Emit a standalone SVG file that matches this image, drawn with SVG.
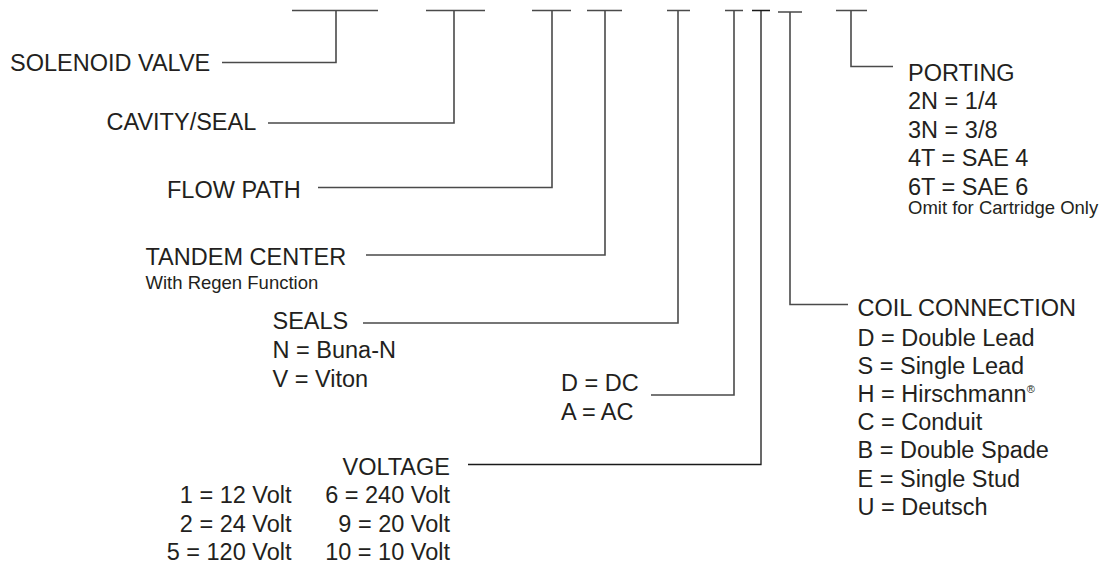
<svg xmlns="http://www.w3.org/2000/svg" width="1101" height="564" viewBox="0 0 1101 564">
<style>
text{font-family:"Liberation Sans",Arial,Helvetica,sans-serif;fill:#231f20;font-size:23.5px}
.s{font-size:18.5px}
.e{text-anchor:end}
.c{fill:none;stroke:#4a4a4a;stroke-width:1.6}
.k{fill:none;stroke:#1a1a1a;stroke-width:1.3}
</style>
<rect width="1101" height="564" fill="#fff"/>
<g id="connectors">
<path class="c" d="M292,10.5H378M336,10.5V62.5H222"/>
<path class="c" d="M426,10.5H485M454,10.5V123H268"/>
<path class="c" d="M532,10.5H571M552,10.5V187.5H318"/>
<path class="c" d="M587,10.5H622M605,10.5V255H366"/>
<path class="c" d="M667,10.5H690M678,10.5V323H363"/>
<path class="c" d="M725,10.5H743M734,10.5V395H651"/>
<path class="k" d="M752,10.5H770M761,10.5V464.5H468"/>
<path class="c" d="M778,12H802M790,12V304.5H848"/>
<path class="c" d="M836,10.5H867M851,10.5V66.5H893"/>
</g>
<g id="solenoid-valve"><text x="10" y="70.5">SOLENOID VALVE</text></g>
<g id="cavity-seal"><text x="106.5" y="130">CAVITY/SEAL</text></g>
<g id="flow-path"><text x="167" y="198">FLOW PATH</text></g>
<g id="tandem-center">
<text x="145.5" y="265">TANDEM CENTER</text>
<text class="s" x="145.5" y="289">With Regen Function</text>
</g>
<g id="seals">
<text x="272.5" y="329">SEALS</text>
<text x="272.5" y="358">N = Buna-N</text>
<text x="272.5" y="386.5">V = Viton</text>
</g>
<g id="current">
<text x="561" y="391">D = DC</text>
<text x="561" y="419.5">A = AC</text>
</g>
<g id="voltage">
<text class="e" x="450" y="475">VOLTAGE</text>
<text class="e" x="291.5" y="503.3">1 = 12 Volt</text>
<text class="e" x="291.5" y="531.7">2 = 24 Volt</text>
<text class="e" x="291.5" y="560">5 = 120 Volt</text>
<text class="e" x="450" y="503.3">6 = 240 Volt</text>
<text class="e" x="450" y="531.7">9 = 20 Volt</text>
<text class="e" x="450" y="560">10 = 10 Volt</text>
</g>
<g id="coil-connection">
<text x="857.5" y="315.7">COIL CONNECTION</text>
<text x="857.5" y="345.7">D = Double Lead</text>
<text x="857.5" y="373.5">S = Single Lead</text>
<text x="857.5" y="401.5">H = Hirschmann<tspan font-size="11" dy="-9">®</tspan></text>
<text x="857.5" y="429.5">C = Conduit</text>
<text x="857.5" y="458">B = Double Spade</text>
<text x="857.5" y="486.5">E = Single Stud</text>
<text x="857.5" y="515">U = Deutsch</text>
</g>
<g id="porting">
<text x="908" y="81">PORTING</text>
<text x="908" y="109.3">2N = 1/4</text>
<text x="908" y="137.7">3N = 3/8</text>
<text x="908" y="166">4T = SAE 4</text>
<text x="908" y="194.5">6T = SAE 6</text>
<text class="s" x="908" y="213.5">Omit for Cartridge Only</text>
</g>
</svg>
